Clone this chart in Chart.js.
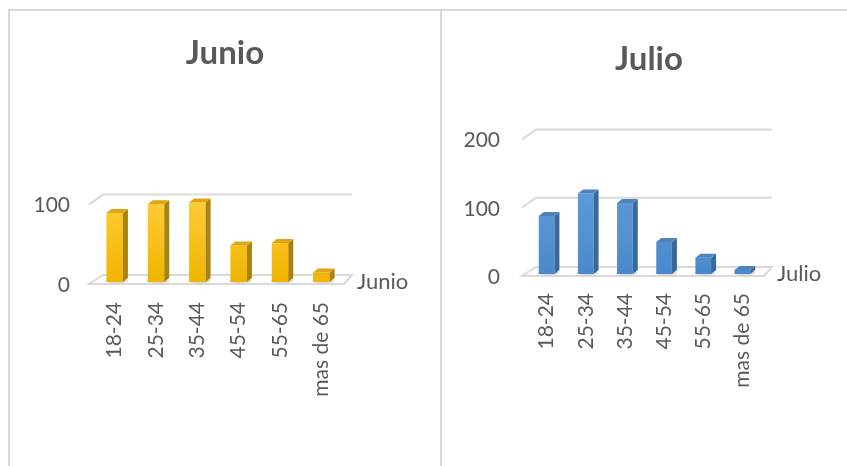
<!DOCTYPE html>
<html>
<head>
<meta charset="utf-8">
<script src="https://cdn.jsdelivr.net/npm/chart.js@4/dist/chart.umd.min.js"></script>
<style>
  html, body { margin: 0; padding: 0; background: #fff; }
  #page { position: relative; width: 847px; height: 466px; overflow: hidden; background: #fff; }
  .panel { position: absolute; box-sizing: border-box; border-top: 2px solid #d9d9d9; }
  #leftPanel { left: 8px; top: 9px; width: 434px; height: 457px; border-left: 2px solid #d9d9d9; border-right: 2px solid #d9d9d9; }
  #rightPanel { left: 442px; top: 9px; width: 405px; height: 457px; }
  canvas { position: absolute; top: 0; }
  #junioChart { left: 0; }
  #julioChart { left: 441px; }
</style>
</head>
<body>
<div id="page">
  <div class="panel" id="leftPanel"></div>
  <div class="panel" id="rightPanel"></div>
  <canvas id="junioChart" width="441" height="466"></canvas>
  <canvas id="julioChart" width="406" height="466"></canvas>
</div>
<script>
// values
const categories = ['18-24', '25-34', '35-44', '45-54', '55-65', 'mas de 65'];
const junioValues = [87, 98, 100, 46, 49, 12];
const julioValues = [85, 118, 104, 47, 24, 6];
const junioTicks = [0, 100];
const julioTicks = [0, 100, 200];

const textColor = '#595959';
const gridColor = '#d9d9d9';

// fake 3D: floor, back-wall gridlines, side and top faces of the bars
const depthPlugin = {
  id: 'depth',
  beforeDatasetsDraw(chart) {
    const ctx = chart.ctx;
    const area = chart.chartArea;
    const y = chart.scales.y;
    const L = area.left, R = area.right;
    ctx.save();
    ctx.strokeStyle = gridColor;
    ctx.lineWidth = 2;
    y.ticks.forEach(t => {
      if (t.value === 0) return;
      const py = y.getPixelForValue(t.value);
      ctx.beginPath();
      ctx.moveTo(L - 5, py + 2);
      ctx.lineTo(L + 9, py - 8);
      ctx.lineTo(R + 10, py - 8);
      ctx.stroke();
    });
    const y0 = y.getPixelForValue(0);
    ctx.fillStyle = '#fff';
    ctx.beginPath();
    ctx.moveTo(L - 5, y0 + 2);
    ctx.lineTo(R + 2, y0 + 2);
    ctx.lineTo(R + 10, y0 - 7);
    ctx.lineTo(L + 9, y0 - 7);
    ctx.closePath();
    ctx.fill();
    ctx.stroke();
    // floor shadows under bars
    const meta = chart.getDatasetMeta(0);
    ctx.fillStyle = 'rgba(120,120,120,0.25)';
    meta.data.forEach(bar => {
      const w = bar.width;
      ctx.beginPath();
      ctx.ellipse(bar.x + 2, y0 - 1, w / 2 + 3, 2.5, 0, 0, Math.PI * 2);
      ctx.fill();
    });
    ctx.restore();
  },
  afterDatasetsDraw(chart, args, opts) {
    const ctx = chart.ctx;
    const meta = chart.getDatasetMeta(0);
    const dx = 5, dy = 4;
    ctx.save();
    meta.data.forEach(bar => {
      const w = bar.width;
      const x1 = bar.x - w / 2, x2 = bar.x + w / 2;
      const top = bar.y, base = bar.base;
      ctx.fillStyle = opts.side;
      ctx.beginPath();
      ctx.moveTo(x2, top);
      ctx.lineTo(x2 + dx, top - dy);
      ctx.lineTo(x2 + dx, base - dy);
      ctx.lineTo(x2, base);
      ctx.closePath();
      ctx.fill();
      ctx.fillStyle = opts.top;
      ctx.beginPath();
      ctx.moveTo(x1, top);
      ctx.lineTo(x2, top);
      ctx.lineTo(x2 + dx, top - dy);
      ctx.lineTo(x1 + dx, top - dy);
      ctx.closePath();
      ctx.fill();
    });
    ctx.restore();
  },
  afterDraw(chart) {
    // series name at the right end of the floor
    const ctx = chart.ctx;
    const y0 = chart.scales.y.getPixelForValue(0);
    ctx.save();
    ctx.font = '22px Lato';
    ctx.fillStyle = textColor;
    ctx.textAlign = 'left';
    ctx.textBaseline = 'middle';
    ctx.fillText(chart.data.datasets[0].label, chart.chartArea.right + 15, y0);
    ctx.restore();
  }
};

function makeChart(id, label, values, ticks, cfg) {
  new Chart(document.getElementById(id), {
    type: 'bar',
    data: {
      labels: categories,
      datasets: [{
        label: label,
        data: values,
        clip: false,
        barPercentage: 0.4,
        categoryPercentage: 1,
        borderWidth: 0,
        backgroundColor: context => {
          const area = context.chart.chartArea;
          if (!area) return cfg.front[0];
          const g = context.chart.ctx.createLinearGradient(0, area.top, 0, area.bottom);
          g.addColorStop(0, cfg.front[0]);
          g.addColorStop(1, cfg.front[1]);
          return g;
        }
      }]
    },
    options: {
      responsive: false,
      animation: false,
      layout: { padding: { left: cfg.padLeft, right: 0, top: 0, bottom: 0 } },
      plugins: {
        legend: { display: false },
        tooltip: { enabled: false },
        title: {
          display: true,
          text: label,
          color: textColor,
          font: { family: 'Lato', size: 33, weight: 'bold' },
          padding: cfg.titlePad
        },
        depth: { side: cfg.side, top: cfg.top }
      },
      scales: {
        x: {
          grid: { display: false, drawTicks: false },
          border: { display: false },
          ticks: {
            color: textColor,
            font: { family: 'Lato', size: 21 },
            minRotation: 90,
            maxRotation: 90,
            padding: cfg.xPad,
            autoSkip: false
          },
          afterFit: scale => { scale.height = cfg.xHeight; }
        },
        y: {
          min: 0,
          max: ticks[ticks.length - 1],
          grid: { display: false, drawTicks: false },
          border: { display: false },
          afterBuildTicks: scale => { scale.ticks = ticks.map(v => ({ value: v })); },
          ticks: {
            color: textColor,
            font: { family: 'Lato', size: 21 },
            padding: cfg.yPad,
            labelOffset: 3
          },
          afterFit: scale => { scale.width = cfg.yWidth; }
        },
        // empty right axis only reserves room for the series name
        side: {
          position: 'right',
          display: true,
          grid: { display: false, drawTicks: false },
          border: { display: false },
          ticks: { display: false },
          afterFit: scale => { scale.width = cfg.rightWidth; }
        }
      }
    },
    plugins: [depthPlugin]
  });
}

makeChart('junioChart', 'Junio', junioValues, junioTicks, {
  front: ['#ffcb35', '#f0b400'],
  side: '#a8830f',
  top: '#dfa514',
  padLeft: 9,
  rightWidth: 99,
  titlePad: { top: 34, bottom: 129 },
  xHeight: 184,
  xPad: 20,
  yWidth: 85,
  yPad: 24
});

makeChart('julioChart', 'Julio', julioValues, julioTicks, {
  front: ['#6aa5dd', '#4a89cb'],
  side: '#39699a',
  top: '#4d84c0',
  padLeft: 10,
  rightWidth: 85,
  titlePad: { top: 40, bottom: 58 },
  xHeight: 192,
  xPad: 19,
  yWidth: 76,
  yPad: 27
});
</script>
</body>
</html>
